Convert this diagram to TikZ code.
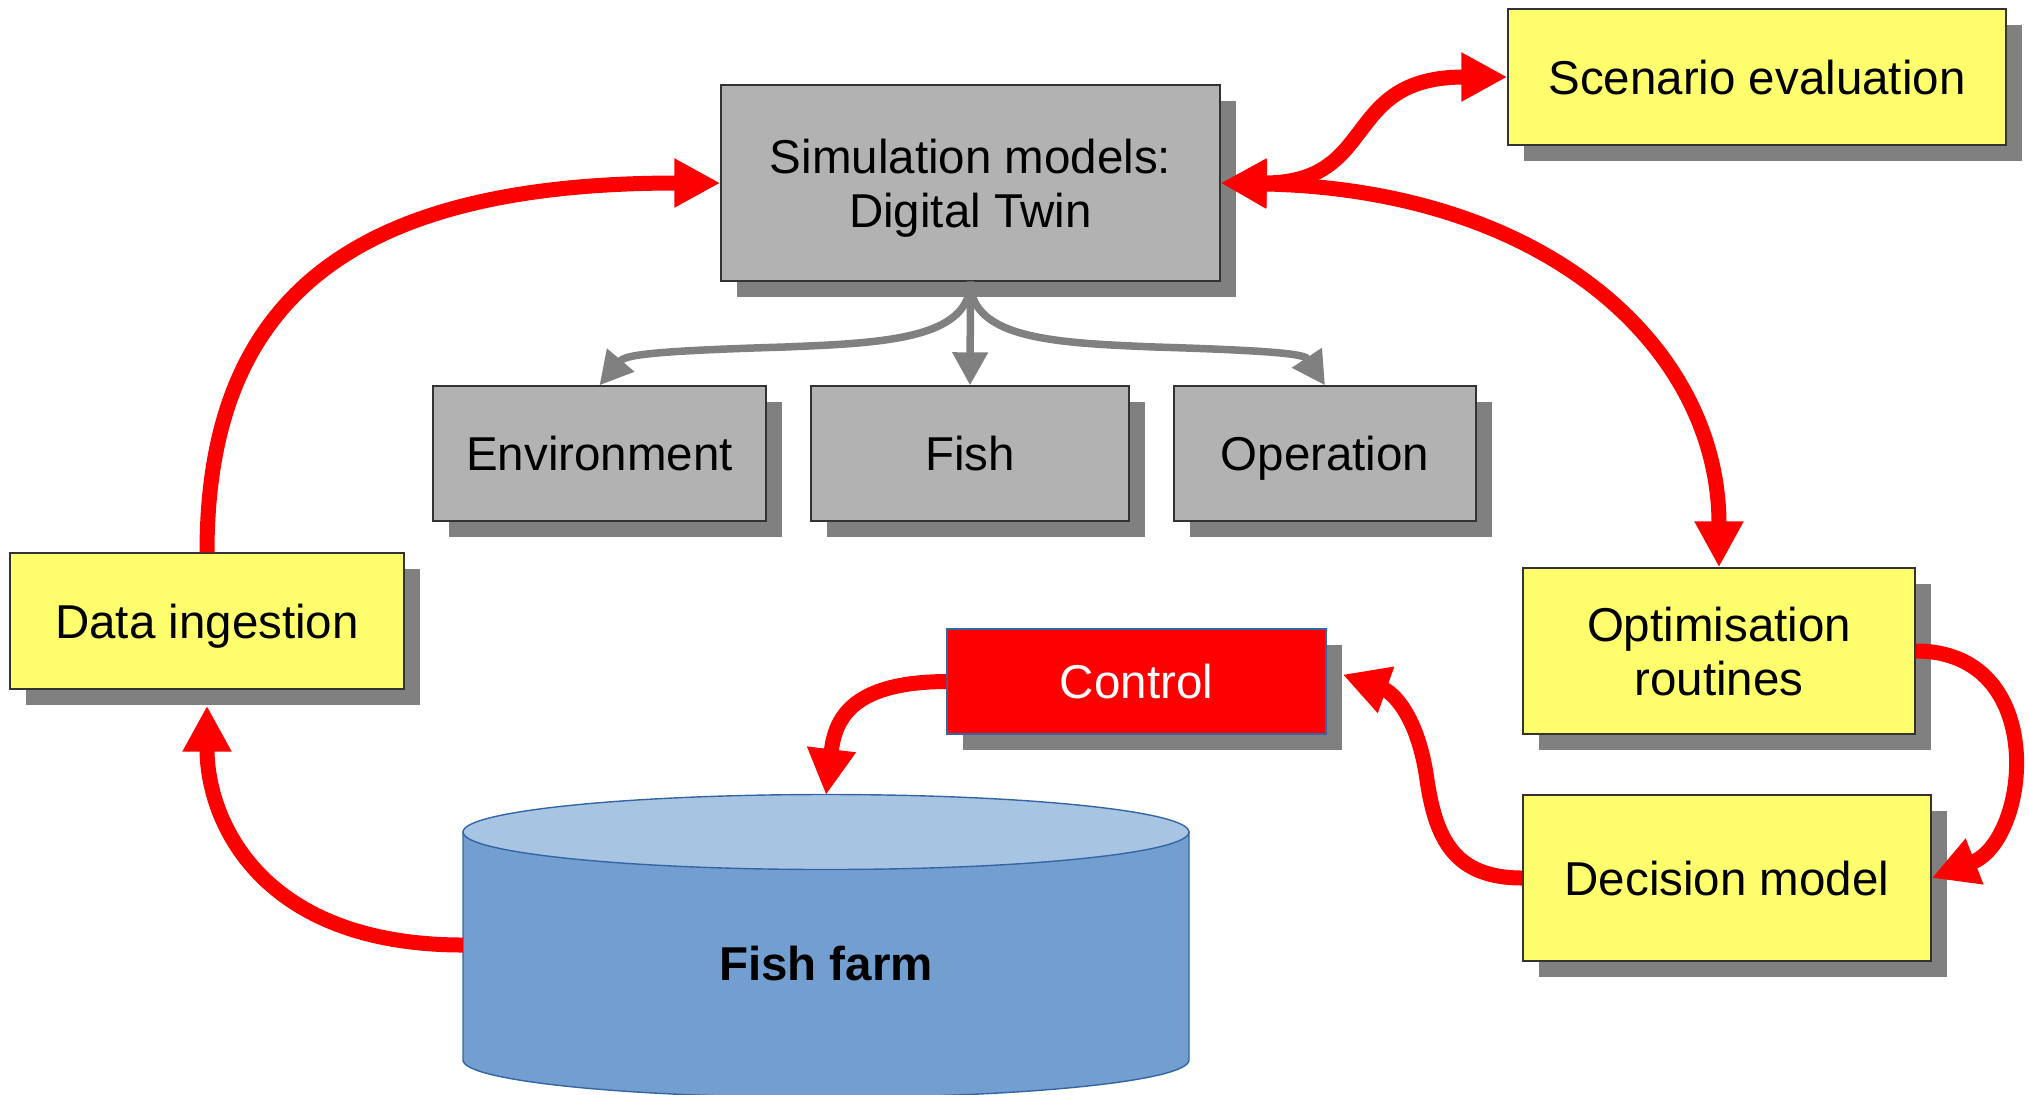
\documentclass[tikz,border=0pt]{standalone}
\usepackage{fontspec}
\setmainfont{Liberation Sans}
\usetikzlibrary{arrows.meta,shadows}

\definecolor{boxgray}{HTML}{B2B2B2}
\definecolor{shadegray}{HTML}{808080}
\definecolor{paleyellow}{HTML}{FFFF6D}
\definecolor{ctrlred}{HTML}{FF0000}
\definecolor{edgeblue}{HTML}{3465A4}
\definecolor{farmbody}{HTML}{729FCF}
\definecolor{farmtop}{HTML}{A7C4E3}

\tikzset{
  box/.style={rectangle, draw=black!80, line width=0.7pt, align=center,
    inner sep=0pt, text depth=0pt, font=\fontsize{23.75}{27}\selectfont,
    drop shadow={shadow xshift=8pt, shadow yshift=-8pt, fill=shadegray, opacity=1}},
  simbox/.style={box, fill=boxgray},
  notebox/.style={box, fill=paleyellow},
  ctrlbox/.style={box, fill=ctrlred, draw=edgeblue, text=white},
  rarrow/.style={draw=ctrlred, line width=7.5pt, >={Triangle[length=23pt,width=23pt]}},
  garrow/.style={draw=shadegray, line width=3.75pt, >={Triangle[length=16.5pt,width=17pt]}},
}

\begin{document}
\begin{tikzpicture}[x=0.5pt, y=-0.5pt]
\useasboundingbox (0,0) rectangle (2029,1094);

% simulation model and its parts
\node[simbox, minimum width=249.5pt, minimum height=98pt] (sim) at (970.5,183)
  {Simulation models:\\Digital Twin};
\node[simbox, minimum width=166.5pt, minimum height=67.5pt] (env) at (599.5,453.5) {Environment};
\node[simbox, minimum width=159pt, minimum height=67.5pt] (fish) at (970,453.5) {Fish};
\node[simbox, minimum width=151pt, minimum height=67.5pt] (oper) at (1325,453.5) {Operation};

% yellow process boxes
\node[notebox, minimum width=249pt, minimum height=68pt] (scen) at (1757,77) {Scenario evaluation};
\node[notebox, minimum width=196pt, minimum height=83pt] (opt) at (1719,651) {Optimisation\\routines};
\node[notebox, minimum width=204pt, minimum height=83pt] (dec) at (1727,878) {Decision model};
\node[notebox, minimum width=197pt, minimum height=68pt] (ingest) at (207,621) {Data ingestion};

% control
\node[ctrlbox, minimum width=189.5pt, minimum height=52.5pt] (ctrl) at (1136.5,681.5) {Control};

% fish farm tank
\filldraw[fill=farmbody, draw=edgeblue, line width=0.7pt]
  (463,832) -- (463,1060) arc[start angle=180, end angle=0, x radius=363, y radius=37.5]
  -- (1189,832) -- cycle;
\filldraw[fill=farmtop, draw=edgeblue, line width=0.7pt]
  (826,832) ellipse[x radius=363, y radius=37.5];
\node[font=\fontsize{23.75}{27}\selectfont\bfseries] (farm) at (826,964) {Fish farm};
\coordinate (farmW) at (463,945);
\coordinate (farmN) at (826,795);

% model breakdown connectors
\draw[garrow,->] (sim.south) -- (fish.north);
\draw[garrow,->] (sim.south) .. controls (970,340) and (880,343) .. (785,347)
  .. controls (650,351) and (625,355) .. (env.north);
\draw[garrow,->] (sim.south) .. controls (970,340) and (1060,343) .. (1155,347)
  .. controls (1290,351) and (1305,355) .. (oper.north);

% control loop
\draw[rarrow,->] (farmW) .. controls (260,945) and (207,820) .. ([shift={(0,16)}]ingest.south);
\draw[rarrow,->] (ingest.north) .. controls (207,300) and (350,183) .. (sim.west);
\draw[rarrow,<->] (sim.east) .. controls (1380,183) and (1340,77) .. (scen.west);
\draw[rarrow,<->] (sim.east) .. controls (1550,190) and (1719,350) .. (opt.north);
\draw[rarrow,->] (opt.east) .. controls (2050,651) and (2030,840) .. (dec.east);
\draw[rarrow,->] (dec.west) .. controls (1455,878) and (1436,840) .. (1427,780)
  .. controls (1418,715) and (1392,692) .. ([shift={(16,-7)}]ctrl.east);
\draw[rarrow,->] (ctrl.west) .. controls (850,682) and (835,720) .. (farmN);
\end{tikzpicture}
\end{document}
